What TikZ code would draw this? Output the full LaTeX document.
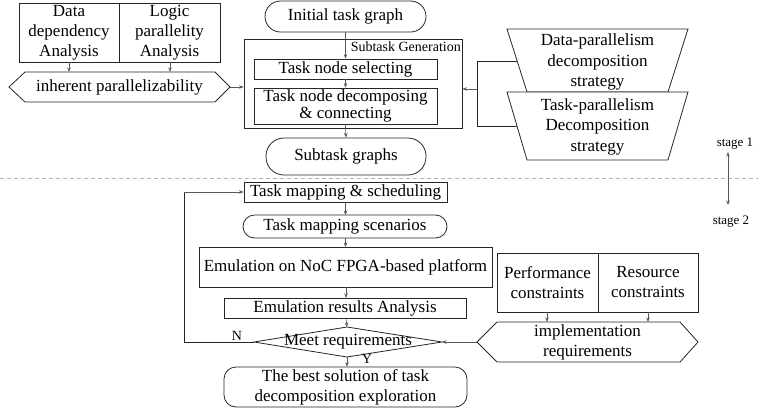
\documentclass[tikz,border=0pt]{standalone}
\usepackage{fontspec}
\setmainfont{Liberation Serif}
\usetikzlibrary{arrows.meta,shapes.geometric}
\tikzset{
  box/.style={draw=black!85, line width=0.8pt, inner sep=0pt, align=center, font=\fontsize{17}{20}\selectfont},
  lbl/.style={inner sep=0pt, align=center, font=\fontsize{17}{20}\selectfont},
  shp/.style={draw=black!85, line width=0.8pt},
  arr/.style={draw=black!65, line width=0.6pt, -{Stealth[length=4.5pt,width=3.5pt]}},
  lin/.style={draw=black!85, line width=0.8pt},
  small/.style={inner sep=0pt, font=\fontsize{14}{16}\selectfont},
}
\begin{document}
\begin{tikzpicture}[x=1pt,y=-1pt]
\useasboundingbox (0,0) rectangle (758,408);
% dashed separator
\draw[black!30, line width=0.6pt, dash pattern=on 4pt off 3pt] (0,178) -- (758,178);

% top left analysis boxes
\node[box, minimum width=100, minimum height=59] (dda) at (69,32.5) {Data\\dependency\\Analysis};
\node[box, minimum width=101, minimum height=59] (lpa) at (169.5,32.5) {Logic\\parallelity\\Analysis};
% hexagon inherent parallelizability
\coordinate (h1w) at (9,87);
\coordinate (h1e) at (230,87);
\draw[shp] (h1w) -- (25,72) -- (215,72) -- (h1e) -- (215,102) -- (25,102) -- cycle;
\node[lbl] (inh) at (119.5,87) {inherent parallelizability};
\coordinate (h1a) at (69,72);
\coordinate (h1b) at (170,72);
\draw[arr] (dda.south -| h1a) -- (h1a);
\draw[arr] (lpa.south -| h1b) -- (h1b);

% central column
\node[box, minimum width=161, minimum height=31, rounded corners=15.5pt] (itg) at (345.5,16.5) {Initial task graph};
\node[draw=black!85, line width=0.8pt, minimum width=218, minimum height=89, inner sep=0pt] (sg) at (353,83.5) {};
\node[small, anchor=north east] (sglbl) at (461,42) {Subtask Generation};
\node[box, minimum width=183, minimum height=20] (tns) at (345.5,69) {Task node selecting};
\node[box, minimum width=183, minimum height=36, font=\fontsize{17}{17.5}\selectfont] (tnd) at (345.5,106) {Task node decomposing\\\& connecting};
\node[box, minimum width=160, minimum height=37, rounded corners=18pt] (stg) at (346,156.5) {Subtask graphs};
\draw[arr] (itg.south) -- (tns.north);
\draw[arr] (tns.south) -- (tnd.north);
\draw[arr] (tnd.south |- sg.south) -- (stg.north);
\draw[lin, draw=black!65, line width=0.6pt] (tnd.south) -- (tnd.south |- sg.south);
\draw[arr] (h1e) -- (h1e -| sg.west);

% trapezoids
\draw[shp] (507,29) -- (688,29) -- (668,92) -- (527,92) -- cycle;
\node[lbl, font=\fontsize{17}{20.5}\selectfont] (dps) at (597.5,62) {Data-parallelism\\decomposition\\strategy};
\draw[shp, fill=white] (507,92) -- (688,92) -- (668,160) -- (527,160) -- cycle;
\node[lbl, font=\fontsize{17}{20.5}\selectfont] (tps) at (597.5,126.5) {Task-parallelism\\Decomposition\\strategy};
\coordinate (b1) at (517,61);
\coordinate (b2) at (517,126);
\coordinate (bm) at (477,89);
\draw[lin] (b1) -- (477,61) -- (477,126) -- (b2);
\draw[arr] (bm) -- (bm -| sg.east);

% stage labels
\node[inner sep=0pt, font=\fontsize{13}{15}\selectfont] (st1) at (735,144) {stage 1};
\node[inner sep=0pt, font=\fontsize{13}{15}\selectfont] (st2) at (731,222) {stage 2};
\draw[draw=black!65, line width=0.6pt, {Stealth[length=4.5pt,width=3.5pt]}-{Stealth[length=4.5pt,width=3.5pt]}] (728,152) -- (728,205);

% stage 2 column
\node[box, minimum width=203, minimum height=20] (tms) at (345.5,192) {Task mapping \& scheduling};
\node[box, minimum width=204, minimum height=23, rounded corners=11.5pt] (tmsc) at (345,226.5) {Task mapping scenarios};
\node[box, minimum width=293, minimum height=40] (emu) at (345.5,267) {Emulation on NoC FPGA-based platform};
\node[box, minimum width=242, minimum height=20] (era) at (345,308) {Emulation results Analysis};
\coordinate (dw) at (254,342);
\coordinate (de) at (442,342);
\coordinate (dn) at (347,327);
\coordinate (ds) at (347,357);
\draw[shp] (dw) -- (dn) -- (de) -- (ds) -- cycle;
\node[lbl] (meet) at (348,342) {Meet requirements};
\node[box, minimum width=243, minimum height=40, rounded corners=12pt] (best) at (345.5,387) {The best solution of task\\decomposition exploration};
\draw[arr] (345.5,202) -- (345.5,215);
\draw[arr] (345.5,238) -- (345.5,247);
\draw[arr] (346,287) -- (346,298);
\draw[arr] (346,318) -- (dn);
\draw[arr] (ds) -- (best.north -| ds);
\node[small] (nl) at (237,336) {N};
\node[small] (yl) at (367,359) {Y};
\coordinate (fb1) at (184,342);
\coordinate (fb2) at (184,192);
\draw[lin] (dw) -- (fb1) -- (fb2);
\draw[arr] (fb2) -- (tms.west);

% constraints
\node[box, minimum width=101, minimum height=59] (perf) at (547.5,282.5) {Performance\\constraints};
\node[box, minimum width=100, minimum height=59] (res) at (648,282.5) {Resource\\constraints};
\coordinate (h2w) at (477,342);
\draw[shp] (h2w) -- (497,322) -- (680,322) -- (698,342) -- (680,362) -- (497,362) -- cycle;
\node[lbl] (imp) at (587.5,342) {implementation\\requirements};
\coordinate (h2a) at (547,322);
\coordinate (h2b) at (648,322);
\draw[arr] (perf.south -| h2a) -- (h2a);
\draw[arr] (res.south -| h2b) -- (h2b);
\draw[arr] (h2w) -- (de);
\end{tikzpicture}
\end{document}
